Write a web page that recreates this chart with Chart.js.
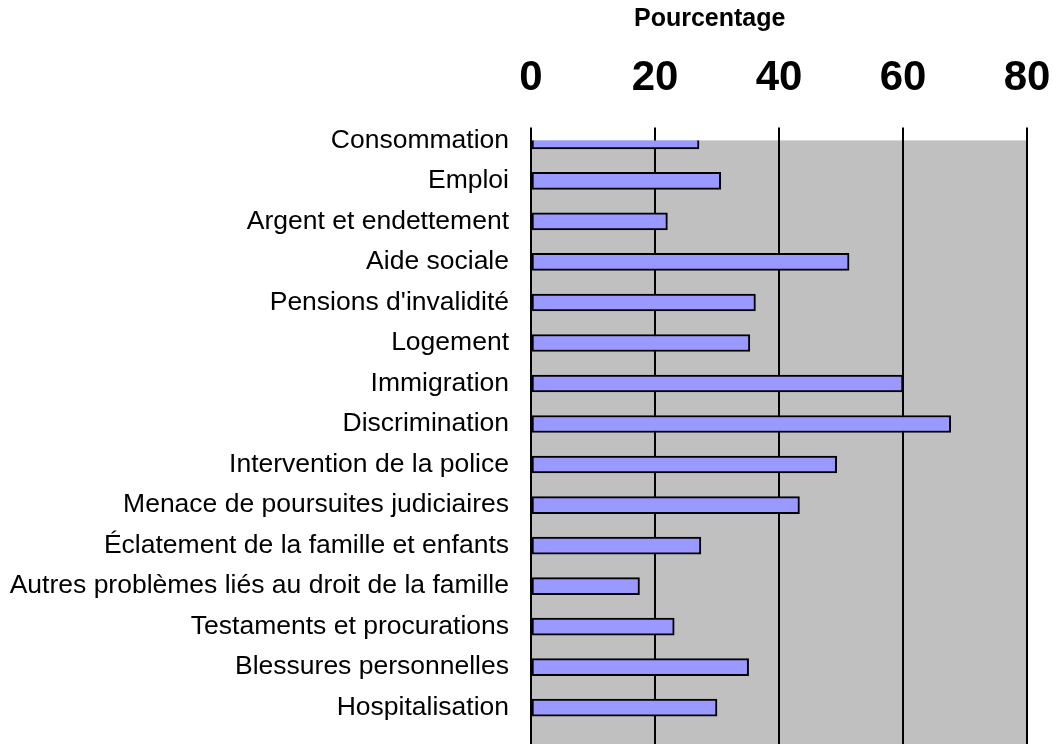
<!DOCTYPE html>
<html>
<head>
<meta charset="utf-8">
<script src="https://cdn.jsdelivr.net/npm/chart.js@4/dist/chart.umd.min.js"></script>
<style>
  html, body { margin: 0; padding: 0; background: #fff; overflow: hidden; }
  #wrap { width: 1053px; height: 744px; overflow: hidden; }
</style>
</head>
<body>
<div id="wrap"><canvas id="chart" width="1053" height="782"></canvas></div>
<script>
const categories = [
    'Consommation', 'Emploi', 'Argent et endettement', 'Aide sociale',
    "Pensions d'invalidité", 'Logement', 'Immigration', 'Discrimination',
    'Intervention de la police', 'Menace de poursuites judiciaires',
    'Éclatement de la famille et enfants', 'Autres problèmes liés au droit de la famille',
    'Testaments et procurations', 'Blessures personnelles', 'Hospitalisation'
];
const percentages = [27.1, 30.6, 22.0, 51.3, 36.2, 35.3, 60.0, 67.7, 49.3, 43.3, 27.4, 17.5, 23.1, 35.1, 30.0];
const xTicks = [0, 20, 40, 60, 80];
const axisTitle = 'Pourcentage';

const FONT = "'Liberation Sans', Arial, sans-serif";

// gray plot background
const plotBg = {
    id: 'plotBg',
    beforeDraw(chart) {
        const a = chart.chartArea, ctx = chart.ctx;
        ctx.save();
        ctx.fillStyle = '#c0c0c0';
        ctx.fillRect(a.left, a.top, a.right - a.left, a.bottom - a.top);
        ctx.restore();
    }
};

// axis title sits left of centre in the original
const topTitle = {
    id: 'topTitle',
    afterDraw(chart) {
        const ctx = chart.ctx;
        ctx.save();
        ctx.font = 'bold 25px ' + FONT;
        ctx.fillStyle = '#000';
        ctx.textAlign = 'center';
        ctx.textBaseline = 'middle';
        ctx.fillText(axisTitle, chart.width * 0.674, 19);
        ctx.restore();
    }
};

new Chart(document.getElementById('chart'), {
    type: 'bar',
    data: {
        datasets: [{
            data: percentages.map((v, i) => ({ x: v, y: i })),
            backgroundColor: '#9999ff',
            borderColor: '#000',
            borderWidth: 2,
            borderSkipped: false,
            barThickness: 17
        }]
    },
    options: {
        indexAxis: 'y',
        responsive: false,
        animation: false,
        layout: { padding: { top: 29, right: 26, left: 0, bottom: 0 } },
        plugins: { legend: { display: false }, tooltip: { enabled: false } },
        scales: {
            x: {
                position: 'top',
                min: 0, max: 80,
                afterBuildTicks: s => { s.ticks = xTicks.map(v => ({ value: v })); },
                afterFit: s => { s.paddingLeft = 0; s.paddingRight = 0; },
                grid: { color: '#000', lineWidth: 2, tickLength: 13, drawTicks: true },
                border: { display: false },
                ticks: { color: '#000', font: { family: FONT, size: 42, weight: 'bold' }, padding: 24, maxRotation: 0 }
            },
            y: {
                type: 'linear',
                reverse: true,
                offset: false,
                min: 0, max: 14.9,
                afterBuildTicks: s => { s.ticks = categories.map((c, i) => ({ value: i })); },
                afterFit: s => { s.width = 531; },
                grid: { display: false, drawTicks: false, offset: false },
                border: { display: true, color: '#000', width: 2 },
                ticks: {
                    color: '#000', font: { family: FONT, size: 26.5 }, padding: 22,
                    callback: v => categories[v] || ''
                }
            }
        }
    },
    plugins: [plotBg, topTitle]
});
</script>
</body>
</html>
